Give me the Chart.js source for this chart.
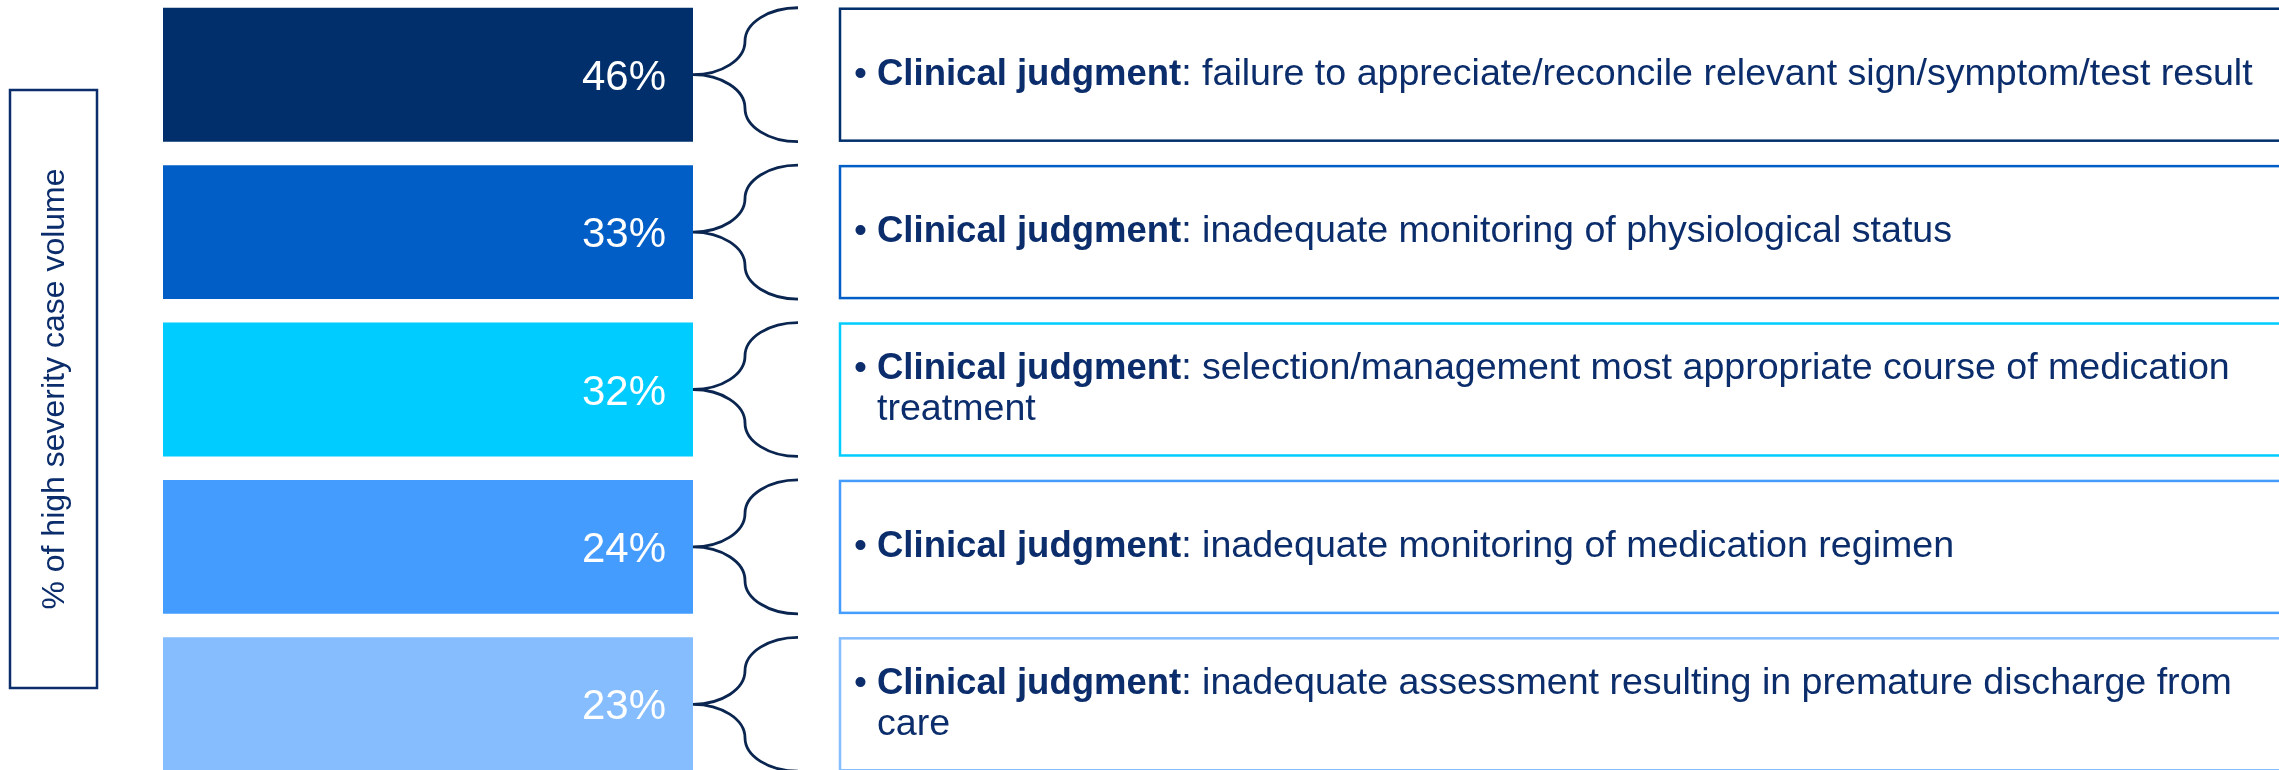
<!DOCTYPE html>
<html>
<head>
<meta charset="utf-8">
<script src="https://cdn.jsdelivr.net/npm/chart.js@4"></script>
<style>
  html, body { margin: 0; padding: 0; background: #fff; overflow: hidden; }
  #wrap { position: absolute; left: 0; top: -4px; width: 2279px; height: 787px; }
</style>
</head>
<body>
<div id="wrap"><canvas id="causesChart"></canvas></div>
<script>
const categories = ["Clinical judgment", "Clinical judgment", "Clinical judgment", "Clinical judgment", "Clinical judgment"];
const shares = [46, 33, 32, 24, 23];
const details = [
    ["failure to appreciate/reconcile relevant sign/symptom/test result"],
    ["inadequate monitoring of physiological status"],
    ["selection/management most appropriate course of medication", "treatment"],
    ["inadequate monitoring of medication regimen"],
    ["inadequate assessment resulting in premature discharge from", "care"]
];
const barColors = ["#002f6c", "#005ec6", "#00ccff", "#459cff", "#85bdff"];
const axisTitle = "% of high severity case volume";

const navy = "#0b2d6b";
const font = "'Liberation Sans', Arial, sans-serif";

// every bar is drawn full length; the share is shown as its label
const calloutPlugin = {
    id: "callouts",
    afterDatasetsDraw(chart) {
        const ctx = chart.ctx;
        const bars = chart.getDatasetMeta(0).data;
        ctx.save();

        bars.forEach((bar, i) => {
            const h = bar.height / 2;
            const top = bar.y - h;
            const yc = bar.y;

            // share label
            ctx.fillStyle = "#ffffff";
            ctx.font = `42px ${font}`;
            ctx.textAlign = "right";
            ctx.textBaseline = "alphabetic";
            ctx.fillText(shares[i] + "%", bar.x - 27, yc + 15);

            // brace, two quarter ellipses per half
            const x0 = bar.x, xm = x0 + 52, xe = x0 + 105;
            const k = 0.55, ry = 0.5 * h;
            ctx.strokeStyle = "#0a2550";
            ctx.lineWidth = 2.8;
            ctx.beginPath();
            for (const s of [-1, 1]) {
                ctx.moveTo(x0, yc);
                ctx.bezierCurveTo(x0 + k * 52, yc, xm, yc + s * (ry - k * ry), xm, yc + s * ry);
                ctx.bezierCurveTo(xm, yc + s * (ry + k * (h - ry)), xe - k * 53, yc + s * h, xe, yc + s * h);
            }
            ctx.stroke();

            // text box
            const bx = x0 + 147;
            ctx.strokeStyle = barColors[i];
            ctx.lineWidth = 2.5;
            ctx.strokeRect(bx, top + 1, 1700, bar.height - 2);

            // text
            const lines = details[i];
            const lh = 41;
            let y = yc + 10 - (lines.length - 1) * lh / 2;
            ctx.textAlign = "left";
            ctx.fillStyle = navy;
            ctx.font = `37px ${font}`;
            ctx.fillText("\u2022", bx + 14, y);
            const tx = bx + 37;
            ctx.font = `bold 36.5px ${font}`;
            ctx.fillText(categories[i], tx, y);
            const w = ctx.measureText(categories[i]).width;
            ctx.font = `37.6px ${font}`;
            ctx.fillText(": " + lines[0], tx + w, y);
            for (let n = 1; n < lines.length; n++) {
                y += lh;
                ctx.fillText(lines[n], tx, y);
            }
        });

        // vertical axis title box
        const top = chart.chartArea.top + 94, bottom = chart.chartArea.top + 692;
        ctx.strokeStyle = navy;
        ctx.lineWidth = 2.5;
        ctx.strokeRect(10, top, 87, bottom - top);
        ctx.translate(55, (top + bottom) / 2);
        ctx.rotate(-Math.PI / 2);
        ctx.fillStyle = navy;
        ctx.font = `32px ${font}`;
        ctx.textAlign = "center";
        ctx.textBaseline = "middle";
        ctx.fillText(axisTitle, 0, 0);
        ctx.restore();
    }
};

new Chart(document.getElementById("causesChart"), {
    type: "bar",
    data: {
        labels: categories,
        datasets: [{
            data: shares.map(() => 1),
            backgroundColor: barColors,
            borderWidth: 0,
            categoryPercentage: 1,
            barPercentage: 0.851
        }]
    },
    options: {
        indexAxis: "y",
        responsive: true,
        maintainAspectRatio: false,
        animation: false,
        layout: {padding: {left: 163, right: 1586, top: 0, bottom: 0}},
        scales: {
            x: {display: false, min: 0, max: 1},
            y: {display: false, offset: true}
        },
        plugins: {legend: {display: false}, tooltip: {enabled: false}}
    },
    plugins: [calloutPlugin]
});
</script>
</body>
</html>
